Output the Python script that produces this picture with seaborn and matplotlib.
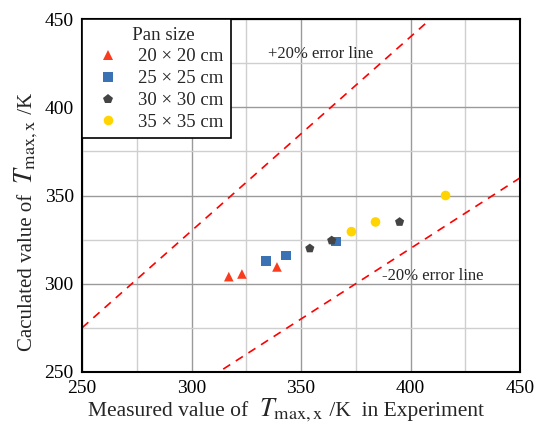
import numpy as np
import pandas as pd
import matplotlib
matplotlib.use("Agg")
import matplotlib.pyplot as plt
import seaborn as sns
from matplotlib.ticker import MultipleLocator

# ---- data ----
pan_sizes = ["20 × 20 cm", "25 × 25 cm", "30 × 30 cm", "35 × 35 cm"]
measured_20 = [317, 323, 339]
calc_20 = [304, 305.5, 309.5]
measured_25 = [334, 343, 366]
calc_25 = [313, 316, 324]
measured_30 = [354, 364, 395]
calc_30 = [320, 324.5, 335]
measured_35 = [373, 384, 416]
calc_35 = [329.5, 335, 350]

upper_factor = 1.1   # "+20% error line" as drawn
lower_factor = 0.8   # "-20% error line"
axis_limits = [250, 450]

colors = ["#FA3C1E", "#3A72B3", "#444444", "#FFD400"]
markers = ["^", "s", "p", "o"]

df = pd.DataFrame({
    "measured": measured_20 + measured_25 + measured_30 + measured_35,
    "calculated": calc_20 + calc_25 + calc_30 + calc_35,
    "Pan size": [pan_sizes[0]] * 3 + [pan_sizes[1]] * 3 + [pan_sizes[2]] * 3 + [pan_sizes[3]] * 3,
})

sns.set_theme(style="white")
plt.rcParams["font.family"] = ["Liberation Serif", "DejaVu Serif"]
plt.rcParams["mathtext.fontset"] = "stix"
plt.rcParams["xtick.direction"] = "in"
plt.rcParams["ytick.direction"] = "in"

fig = plt.figure(figsize=(5.4, 4.25), dpi=100)
ax = fig.add_axes([0.152, 0.125, 0.811, 0.830])

# error lines
xs = np.array(axis_limits, dtype=float)
ax.plot(xs, upper_factor * xs, color="red", ls=(0, (5, 4)), lw=1.2, zorder=2)
ax.plot(xs, lower_factor * xs, color="red", ls=(0, (5, 4)), lw=1.2, zorder=2)

sns.scatterplot(data=df, x="measured", y="calculated", hue="Pan size", style="Pan size",
                hue_order=pan_sizes, style_order=pan_sizes,
                palette=colors, markers=markers, s=48, linewidth=0, ax=ax, zorder=3)

ax.set_xlim(axis_limits)
ax.set_ylim(axis_limits)
ax.xaxis.set_major_locator(MultipleLocator(50))
ax.yaxis.set_major_locator(MultipleLocator(50))
ax.xaxis.set_minor_locator(MultipleLocator(25))
ax.yaxis.set_minor_locator(MultipleLocator(25))
ax.grid(True, which="major", color="#9a9a9a", lw=1.0, zorder=0)
ax.grid(True, which="minor", color="#cfcfcf", lw=1.0, zorder=0)
ax.set_axisbelow(True)
ax.tick_params(which="major", length=4, width=1, labelsize=14, colors="black", pad=6)
ax.tick_params(which="minor", length=2.5, width=0.8)
for sp in ax.spines.values():
    sp.set_color("black")
    sp.set_linewidth(1.5)
ax.set_xlabel("")
ax.set_ylabel("")

ax.text(335, 430, "+20% error line", fontsize=12, va="center", ha="left")
ax.text(387, 304.5, "-20% error line", fontsize=12, va="center", ha="left")

handles, labels = ax.get_legend_handles_labels()
leg = ax.legend(handles, labels, title="   Pan size", loc="upper left", borderaxespad=0,
                fontsize=13.5, title_fontsize=13.5, frameon=True, fancybox=False,
                edgecolor="black", framealpha=1, handletextpad=0.6, labelspacing=0.25,
                borderpad=0.4)
leg.get_frame().set_linewidth(1.2)

# axis titles with a larger italic T, built piece by piece
label_pieces_x = [("Measured value of  ", 15.5), (r"$T_{\rm max,x}$", 19), (" /K  in Experiment", 15.5)]
label_pieces_y = [("Caculated value of  ", 15), (r"$T_{\rm max,x}$", 19), (" /K", 15)]

fig.canvas.draw()
renderer = fig.canvas.get_renderer()
W, H = fig.bbox.width, fig.bbox.height


def place_label(pieces, center, base, vertical):
    texts = []
    for s, size in pieces:
        if vertical:
            t = fig.text(0, 0, s, fontsize=size, rotation=90, rotation_mode="anchor",
                         ha="left", va="baseline")
        else:
            t = fig.text(0, 0, s, fontsize=size, ha="left", va="baseline")
        texts.append(t)
    lengths = []
    for t in texts:
        bb = t.get_window_extent(renderer=renderer)
        lengths.append(bb.height if vertical else bb.width)
    pos = center - sum(lengths) / 2
    for t, ln in zip(texts, lengths):
        if vertical:
            t.set_position((base / W, pos / H))
        else:
            t.set_position((pos / W, base / H))
        pos += ln


# pixel coordinates measured from bottom-left
place_label(label_pieces_x, 286, H - 416, vertical=False)
place_label(label_pieces_y, H - 222, 32, vertical=True)

fig.savefig("out.png", dpi=100)
